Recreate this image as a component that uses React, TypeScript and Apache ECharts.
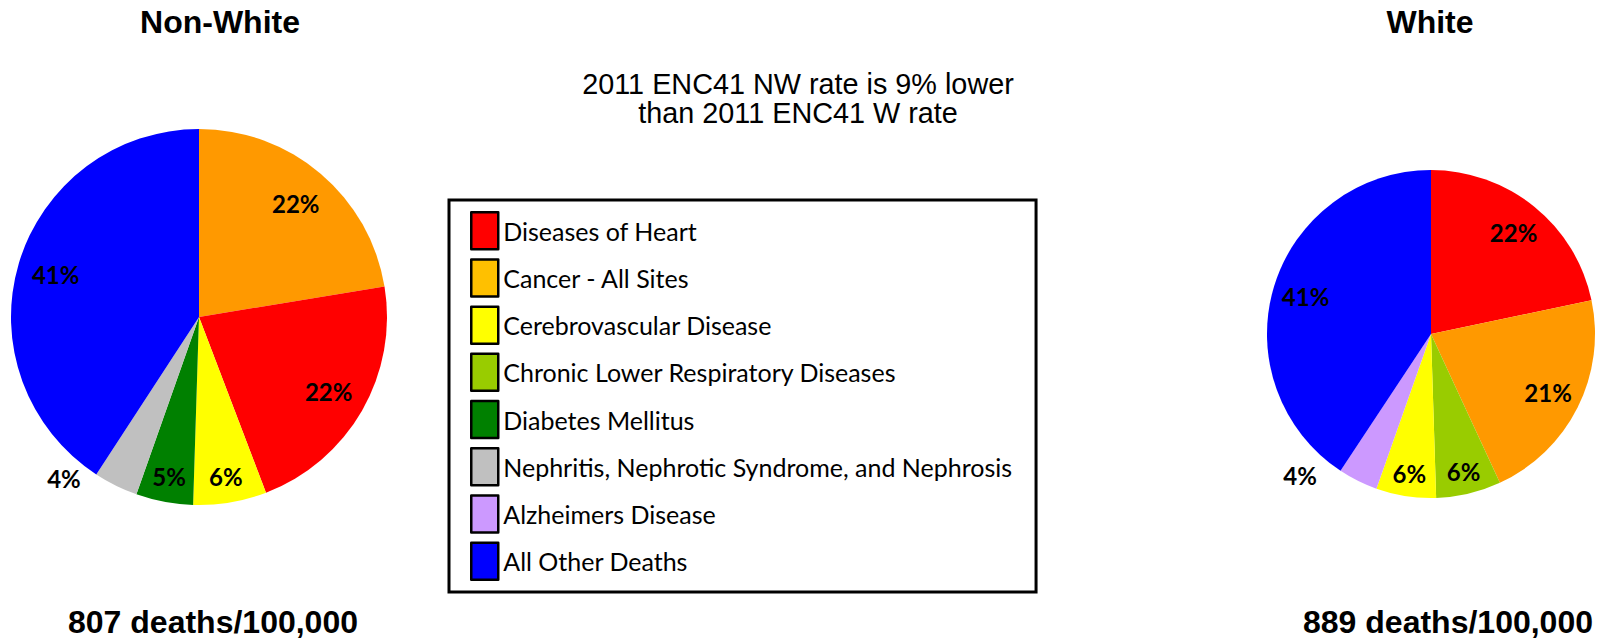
import React, { useEffect, useRef } from "react";
import * as echarts from "echarts";

const categories = [
  "Diseases of Heart",
  "Cancer - All Sites",
  "Cerebrovascular Disease",
  "Chronic Lower Respiratory Diseases",
  "Diabetes Mellitus",
  "Nephritis, Nephrotic Syndrome, and Nephrosis",
  "Alzheimers Disease",
  "All Other Deaths",
];
const categoryColors = ["#FF0000", "#FF9900", "#FFFF00", "#99CC00", "#008000", "#C0C0C0", "#CC99FF", "#0000FF"];
const legendSwatchColors = ["#FF0000", "#FFC000", "#FFFF00", "#99CC00", "#008000", "#C0C0C0", "#CC99FF", "#0000FF"];

const nonWhiteNames = [
  "Cancer - All Sites",
  "Diseases of Heart",
  "Cerebrovascular Disease",
  "Diabetes Mellitus",
  "Nephritis, Nephrotic Syndrome, and Nephrosis",
  "All Other Deaths",
];
const nonWhiteValues = [22.4, 21.8, 6.3, 4.9, 3.8, 40.8];

const whiteNames = [
  "Diseases of Heart",
  "Cancer - All Sites",
  "Chronic Lower Respiratory Diseases",
  "Cerebrovascular Disease",
  "Alzheimers Disease",
  "All Other Deaths",
];
const whiteValues = [21.7, 21.4, 6.4, 5.9, 3.9, 40.7];

const outsideLabelNames = ["Nephritis, Nephrotic Syndrome, and Nephrosis", "Alzheimers Disease"];

const titleLeft = "Non-White";
const titleRight = "White";
const noteLines = ["2011 ENC41 NW rate is 9% lower", "than 2011 ENC41 W rate"];
const rateLeft = "807 deaths/100,000";
const rateRight = "889 deaths/100,000";

const colorOf = (name: string) => categoryColors[categories.indexOf(name)];

function mainData(names: string[], values: number[]) {
  return names.map((n, i) => ({ name: n, value: values[i], itemStyle: { color: colorOf(n) } }));
}
// "big": labels of large slices + outside labels; "small": small inside labels
function labelData(names: string[], values: number[], which: "big" | "small", len2: number, lift: number) {
  return names.map((n, i) => {
    const item: any = { name: n, value: values[i] };
    const isOutside = outsideLabelNames.includes(n);
    const isBig = values[i] >= 10;
    if (which === "big") {
      if (isOutside) {
        item.label = { position: "outside", formatter: "{d}%\n", lineHeight: lift };
        item.labelLine = { show: false, length: 0, length2: len2 };
      } else if (!isBig) {
        item.label = { show: false };
      }
    } else {
      if (isOutside || isBig) item.label = { show: false };
    }
    return item;
  });
}

const labelStyle = {
  show: true,
  position: "inside",
  formatter: "{d}%",
  color: "#000",
  fontFamily: "Lato",
  fontWeight: "bold",
  fontSize: 24,
};

function overlay(center: number[], r0: number, r: number, data: any[]) {
  return {
    type: "pie",
    center,
    radius: [r0, r],
    startAngle: 90,
    silent: true,
    percentPrecision: 0,
    avoidLabelOverlap: false,
    itemStyle: { color: "rgba(0,0,0,0)" },
    label: labelStyle,
    labelLine: { show: false },
    data,
  };
}

export default function App() {
  const ref = useRef<HTMLDivElement>(null);
  useEffect(() => {
    if (!ref.current) return;
    const chart = echarts.init(ref.current, null, { renderer: "svg" });
    const titleFont = { fontFamily: "Liberation Sans, Arial", fontWeight: "bold", fontSize: 32, fill: "#000" };
    const leftC = [199, 317];
    const rightC = [1431, 334];
    chart.setOption({
      animation: false,
      backgroundColor: "#fff",
      legend: {
        orient: "vertical",
        left: 449,
        top: 200,
        padding: [11, 24, 11, 21],
        borderColor: "#000",
        borderWidth: 3,
        itemWidth: 27,
        itemHeight: 37,
        itemGap: 7.7,
        icon: "rect",
        selectedMode: false,
        itemStyle: { borderColor: "#000", borderWidth: 2.5 },
        textStyle: { fontFamily: "Lato", fontSize: 25, color: "#000" },
        data: categories.map((c, i) => ({ name: c, itemStyle: { color: legendSwatchColors[i] } })),
      },
      series: [
        {
          type: "pie",
          center: leftC,
          radius: [0, 188],
          startAngle: 90,
          silent: true,
          label: { show: false },
          labelLine: { show: false },
          data: mainData(nonWhiteNames, nonWhiteValues),
        },
        {
          type: "pie",
          center: rightC,
          radius: [0, 164],
          startAngle: 90,
          silent: true,
          label: { show: false },
          labelLine: { show: false },
          data: mainData(whiteNames, whiteValues),
        },
        overlay(leftC, 105, 188, labelData(nonWhiteNames, nonWhiteValues, "big", 30, 14)),
        overlay(leftC, 130, 188, labelData(nonWhiteNames, nonWhiteValues, "small", 30, 0)),
        overlay(rightC, 92, 164, labelData(whiteNames, whiteValues, "big", 36, 10)),
        overlay(rightC, 113, 164, labelData(whiteNames, whiteValues, "small", 36, 0)),
      ],
      graphic: [
        { type: "text", x: 220, y: 22, style: { text: titleLeft, ...titleFont, textAlign: "center", textVerticalAlign: "middle" } },
        { type: "text", x: 1430, y: 22, style: { text: titleRight, ...titleFont, textAlign: "center", textVerticalAlign: "middle" } },
        { type: "text", x: 213, y: 622, style: { text: rateLeft, ...titleFont, textAlign: "center", textVerticalAlign: "middle" } },
        { type: "text", x: 1448, y: 622, style: { text: rateRight, ...titleFont, textAlign: "center", textVerticalAlign: "middle" } },
        {
          type: "text",
          x: 798,
          y: 98,
          style: {
            text: noteLines.join("\n"),
            fontFamily: "Liberation Sans, Arial",
            fontSize: 28.8,
            lineHeight: 29,
            fill: "#000",
            textAlign: "center",
            textVerticalAlign: "middle",
          },
        },
      ],
    });
    return () => chart.dispose();
  }, []);
  return <div ref={ref} style={{ position: "fixed", left: 0, top: 0, width: 1602, height: 639 }} />;
}
